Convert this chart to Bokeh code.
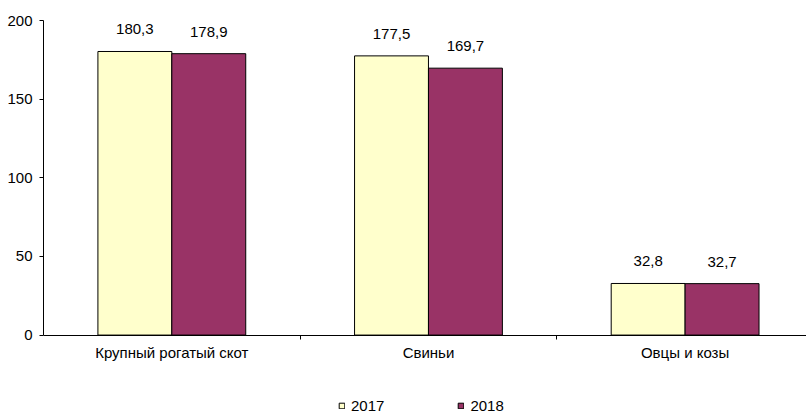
from bokeh.plotting import figure
from bokeh.models import ColumnDataSource, FixedTicker, Range1d, Legend, LegendItem
from bokeh.embed import file_html
from bokeh.resources import INLINE
from bokeh.core.properties import value

categories = ["Крупный рогатый скот", "Свиньи", "Овцы и козы"]
years = ["2017", "2018"]
values_2017 = [180.3, 177.5, 32.8]
values_2018 = [178.9, 169.7, 32.7]
y_ticks = [0, 50, 100, 150, 200]

colors = ["#FFFFCC", "#993366"]
FONT = "Liberation Sans"
FS = "15px"
bar_w = 0.288

centers = [i + 0.5 for i in range(len(categories))]
x17 = [c - bar_w / 2 for c in centers]
x18 = [c + bar_w / 2 for c in centers]


def fmt(v):
    return f"{v:.1f}".replace(".", ",")


# frame spans down to the page bottom; the value axis sits at y = 0
p = figure(width=806, height=414,
           x_range=Range1d(0, 2.973), y_range=Range1d(-50.5, 200),
           output_backend="svg", toolbar_location=None,
           min_border_left=43, min_border_right=0,
           min_border_top=20, min_border_bottom=0)
p.outline_line_color = None
p.grid.visible = False
p.background_fill_color = "white"
p.border_fill_color = "white"

src17 = ColumnDataSource(dict(x=x17, top=values_2017, lbl=[fmt(v) for v in values_2017]))
src18 = ColumnDataSource(dict(x=x18, top=values_2018, lbl=[fmt(v) for v in values_2018]))

r17 = p.vbar(x="x", top="top", width=bar_w, bottom=0, source=src17,
             fill_color=colors[0], line_color="black", line_width=1)
r18 = p.vbar(x="x", top="top", width=bar_w, bottom=0, source=src18,
             fill_color=colors[1], line_color="black", line_width=1)

for src in (src17, src18):
    p.text(x="x", y="top", text="lbl", source=src, text_align="center",
           text_baseline="alphabetic", y_offset=-22,
           text_font=value(FONT), text_font_size=FS, text_color="black")

# y axis
ya = p.yaxis[0]
ya.ticker = FixedTicker(ticks=y_ticks)
ya.bounds = (0, 200)
ya.major_tick_out = 4
ya.major_tick_in = 0
ya.minor_tick_out = 0
ya.minor_tick_in = 0
ya.major_label_standoff = 7
ya.axis_line_color = "black"
ya.major_tick_line_color = "black"
ya.major_label_text_font = FONT
ya.major_label_text_font_size = FS
ya.major_label_text_color = "black"

# x axis: labels at centers, ticks between categories
xa = p.xaxis[0]
xa.fixed_location = 0
xa.ticker = FixedTicker(ticks=centers, minor_ticks=[1, 2])
xa.major_label_overrides = {c: name for c, name in zip(centers, categories)}
xa.major_tick_out = 0
xa.major_tick_in = 0
xa.minor_tick_out = 4
xa.minor_tick_in = 0
xa.minor_tick_line_color = "black"
xa.major_label_standoff = 5
xa.axis_line_color = "black"
xa.major_label_text_font = FONT
xa.major_label_text_font_size = FS
xa.major_label_text_color = "black"

legend = Legend(items=[LegendItem(label=years[0], renderers=[r17]),
                       LegendItem(label=years[1], renderers=[r18])],
                orientation="horizontal", location=(295, 0),
                glyph_width=7, glyph_height=7, label_height=18,
                label_standoff=6, spacing=73,
                padding=0, margin=0, border_line_color=None,
                background_fill_alpha=0,
                label_text_font=FONT, label_text_font_size=FS,
                label_text_color="black")
p.add_layout(legend)

open("out.html", "w").write(file_html(p, INLINE))
